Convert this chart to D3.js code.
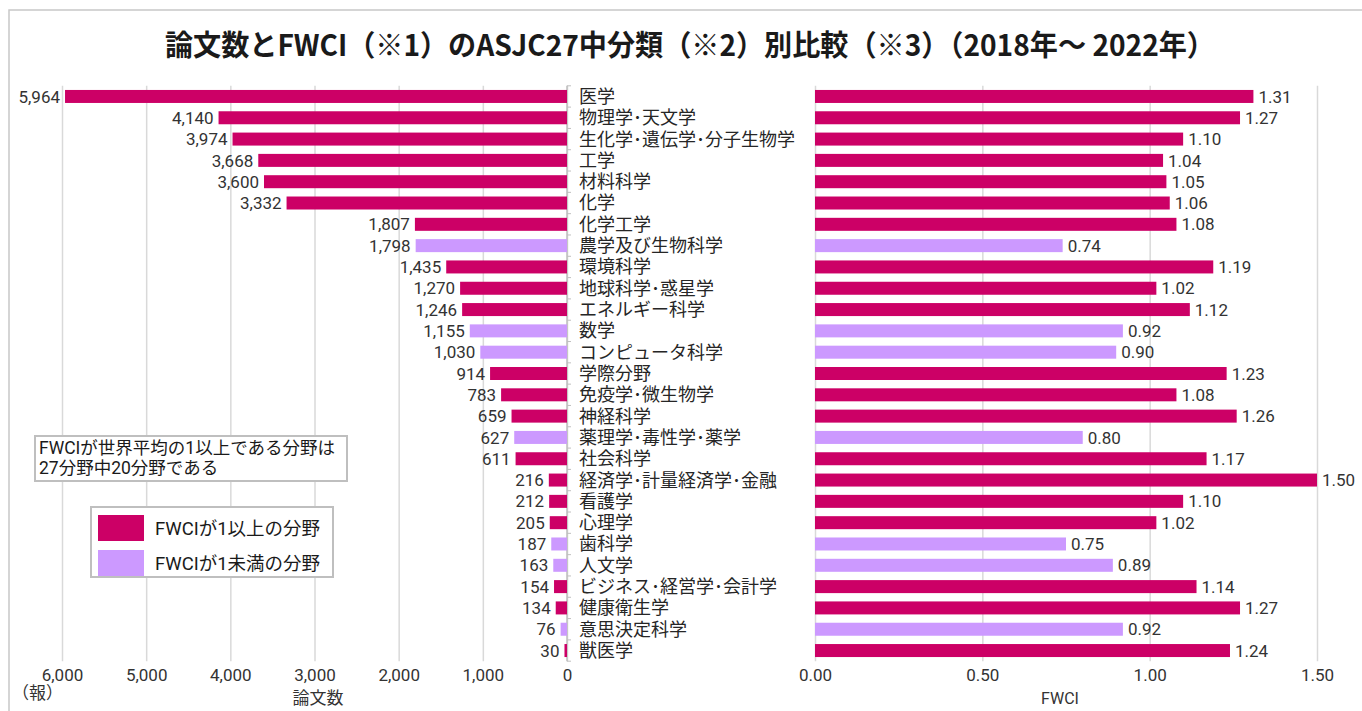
<!DOCTYPE html>
<html>
<head>
<meta charset="utf-8">
<script src="https://cdn.jsdelivr.net/npm/d3@7"></script>
<style>
  body { margin: 0; background: #fff; }
  svg text { font-family: Roboto, "Noto Sans CJK JP", sans-serif; }
</style>
</head>
<body>
<svg width="1362" height="711"></svg>
<script>
var categories = ["医学", "物理学･天文学", "生化学･遺伝学･分子生物学", "工学", "材料科学", "化学", "化学工学",
    "農学及び生物科学", "環境科学", "地球科学･惑星学", "エネルギー科学", "数学", "コンピュータ科学", "学際分野",
    "免疫学･微生物学", "神経科学", "薬理学･毒性学･薬学", "社会科学", "経済学･計量経済学･金融", "看護学", "心理学",
    "歯科学", "人文学", "ビジネス･経営学･会計学", "健康衛生学", "意思決定科学", "獣医学"];
var papers = [5964, 4140, 3974, 3668, 3600, 3332, 1807, 1798, 1435, 1270, 1246, 1155, 1030, 914,
    783, 659, 627, 611, 216, 212, 205, 187, 163, 154, 134, 76, 30];
var fwci = [1.31, 1.27, 1.10, 1.04, 1.05, 1.06, 1.08, 0.74, 1.19, 1.02, 1.12, 0.92, 0.90, 1.23,
    1.08, 1.26, 0.80, 1.17, 1.50, 1.10, 1.02, 0.75, 0.89, 1.14, 1.27, 0.92, 1.24];
var paperTicks = [0, 1000, 2000, 3000, 4000, 5000, 6000];
var fwciTicks = [0, 0.5, 1.0, 1.5];

var HIGH = "#CC0066", LOW = "#CC99FF", GRID = "#d9d9d9", TXT = "#333333";
var JP = "'Noto Sans CJK JP', sans-serif";

var rows = categories.map(function (c, i) {
    return {name: c, papers: papers[i], fwci: fwci[i]};
});

var svg = d3.select("svg");

// outer frame
svg.append("rect")
    .attr("x", 9).attr("y", 10).attr("width", 1400).attr("height", 760)
    .attr("fill", "none").attr("stroke", "#c8c8c8").attr("stroke-width", 1.5);

svg.append("text")
    .attr("x", 690).attr("y", 56)
    .attr("text-anchor", "middle")
    .attr("font-size", 29).attr("font-weight", "bold")
    .attr("fill", "#1a1a1a")
    .attr("textLength", 1050).attr("lengthAdjust", "spacingAndGlyphs")
    .style("font-family", JP)
    .text("論文数とFWCI（※1）のASJC27中分類（※2）別比較（※3）（2018年～ 2022年）");

var plotTop = 85.8, plotBottom = 661.2;
var y = d3.scaleBand().domain(categories).range([plotTop, plotBottom])
    .paddingInner(0.39).paddingOuter(0.195);
var xL = d3.scaleLinear().domain([0, 6000]).range([567, 62]);
var xR = d3.scaleLinear().domain([0, 1.5]).range([815, 1317]);

function gridAxis(scale, ticks, fmt) {
    var g = svg.append("g")
        .attr("transform", "translate(0," + plotBottom + ")")
        .call(d3.axisBottom(scale).tickValues(ticks).tickFormat(fmt)
            .tickSize(-(plotBottom - plotTop)).tickPadding(8));
    g.select(".domain").remove();
    g.selectAll(".tick line").attr("stroke", GRID).attr("stroke-width", 1.5);
    g.selectAll(".tick text").attr("font-size", 17).attr("fill", TXT)
        .style("font-family", "Roboto, sans-serif");
    return g;
}
gridAxis(xL, paperTicks, d3.format(","));
gridAxis(xR, fwciTicks, d3.format(".2f"));

// category axis between the panels
svg.append("line")
    .attr("x1", 567).attr("x2", 567).attr("y1", plotTop).attr("y2", plotBottom)
    .attr("stroke", "#bfbfbf").attr("stroke-width", 1.5);
svg.selectAll(".ctick")
    .data(d3.range(categories.length + 1))
    .enter().append("line")
    .attr("x1", 567).attr("x2", 571)
    .attr("y1", function (i) { return plotTop + i * y.step(); })
    .attr("y2", function (i) { return plotTop + i * y.step(); })
    .attr("stroke", "#bfbfbf").attr("stroke-width", 1);

function color(d) { return d.fwci >= 1 ? HIGH : LOW; }

svg.selectAll(".barL")
    .data(rows)
    .enter().append("rect")
    .attr("x", function (d) { return xL(d.papers); })
    .attr("y", function (d) { return y(d.name); })
    .attr("width", function (d) { return xL(0) - xL(d.papers); })
    .attr("height", y.bandwidth())
    .attr("fill", color);

svg.selectAll(".labL")
    .data(rows)
    .enter().append("text")
    .attr("x", function (d) { return xL(d.papers) - 5; })
    .attr("y", function (d) { return y(d.name) + y.bandwidth() / 2; })
    .attr("dy", "0.36em")
    .attr("text-anchor", "end")
    .attr("font-size", 17).attr("fill", TXT)
    .text(function (d) { return d3.format(",")(d.papers); });

svg.selectAll(".barR")
    .data(rows)
    .enter().append("rect")
    .attr("x", xR(0))
    .attr("y", function (d) { return y(d.name); })
    .attr("width", function (d) { return xR(d.fwci) - xR(0); })
    .attr("height", y.bandwidth())
    .attr("fill", color);

svg.selectAll(".labR")
    .data(rows)
    .enter().append("text")
    .attr("x", function (d) { return xR(d.fwci) + 5; })
    .attr("y", function (d) { return y(d.name) + y.bandwidth() / 2; })
    .attr("dy", "0.36em")
    .attr("font-size", 17).attr("fill", TXT)
    .text(function (d) { return d3.format(".2f")(d.fwci); });

svg.selectAll(".cat")
    .data(rows)
    .enter().append("text")
    .attr("x", 579)
    .attr("y", function (d) { return y(d.name) + y.bandwidth() / 2; })
    .attr("dy", "0.36em")
    .attr("font-size", 18).attr("fill", "#262626")
    .style("font-family", JP)
    .text(function (d) { return d.name; });

// axis titles
svg.append("text").attr("x", 12).attr("y", 699).attr("font-size", 17).attr("fill", TXT)
    .style("font-family", JP).text("（報）");
svg.append("text").attr("x", 318).attr("y", 704).attr("text-anchor", "middle")
    .attr("font-size", 17).attr("fill", TXT)
    .style("font-family", JP).text("論文数");
svg.append("text").attr("x", 1060).attr("y", 704).attr("text-anchor", "middle")
    .attr("font-size", 16).attr("fill", TXT).text("FWCI");

// note box
svg.append("rect").attr("x", 35).attr("y", 436).attr("width", 312).attr("height", 45)
    .attr("fill", "#fff").attr("stroke", "#bfbfbf").attr("stroke-width", 2);
svg.append("text").attr("x", 39).attr("y", 448).attr("dy", "0.36em")
    .attr("font-size", 17.5).attr("fill", "#1a1a1a")
    .text("FWCIが世界平均の1以上である分野は");
svg.append("text").attr("x", 39).attr("y", 468).attr("dy", "0.36em")
    .attr("font-size", 17.5).attr("fill", "#1a1a1a")
    .text("27分野中20分野である");

// legend
var legend = [{label: "FWCIが1以上の分野", color: HIGH}, {label: "FWCIが1未満の分野", color: LOW}];
svg.append("rect").attr("x", 91).attr("y", 507).attr("width", 242).attr("height", 70)
    .attr("fill", "#fff").attr("stroke", "#bfbfbf").attr("stroke-width", 2);
var lg = svg.selectAll(".lg").data(legend).enter().append("g")
    .attr("transform", function (d, i) { return "translate(98," + (515 + i * 35) + ")"; });
lg.append("rect").attr("width", 46).attr("height", 26).attr("fill", function (d) { return d.color; });
lg.append("text").attr("x", 57).attr("y", 13).attr("dy", "0.36em")
    .attr("font-size", 18.5).attr("fill", "#1a1a1a")
    .text(function (d) { return d.label; });
</script>
</body>
</html>
